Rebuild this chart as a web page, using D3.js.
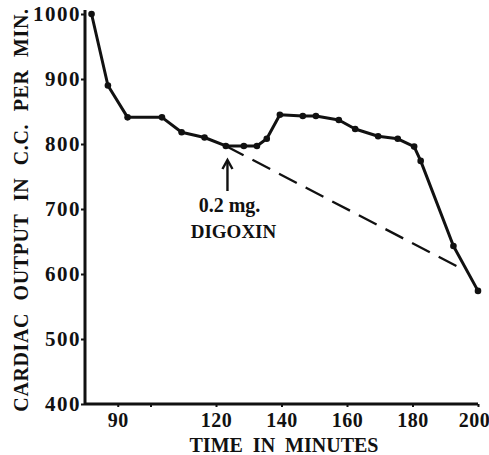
<!DOCTYPE html>
<html>
<head>
<meta charset="utf-8">
<script src="https://cdn.jsdelivr.net/npm/d3@7"></script>
<style>
  body { margin: 0; background: #fff; }
  text { font-family: "Liberation Serif", "DejaVu Serif", serif; font-weight: bold; fill: #111; }
</style>
</head>
<body>
<svg id="chart" width="489" height="455"></svg>
<script>
  // readings
  var times = [82, 87, 93, 103.5, 109.5, 116.5, 123, 128.5, 132.5, 135.5, 139.5, 146.5, 150.5, 157.5, 162.5, 169.5, 175.5, 180.5, 182.5, 192.5, 200];
  var output = [1000, 890, 841, 841, 818, 810, 797, 797, 797, 808, 845, 843, 843, 837, 823, 812, 808, 796, 774, 643, 574];
  var trendTimes = [123, 195];
  var trendOutput = [797, 608];
  var xTicks = [90, 100, 120, 140, 160, 180, 200];
  var xTickLabels = [90, 120, 140, 160, 180, 200];
  var yTicks = [400, 500, 600, 700, 800, 900, 1000];

  var X0 = 85, X1 = 478, Y0 = 404, Y1 = 14;

  var svg = d3.select("#chart");
  var x = d3.scaleLinear().domain([80, 200]).range([X0, X1]);
  var y = d3.scaleLinear().domain([400, 1000]).range([Y0, Y1]);

  // axes
  var xAxis = svg.append("g").attr("transform", "translate(0," + Y0 + ")")
    .call(d3.axisBottom(x).tickValues(xTicks).tickSize(3).tickSizeOuter(0)
      .tickFormat(function (d) { return xTickLabels.indexOf(d) >= 0 ? String(d) : ""; }));
  var yAxis = svg.append("g").attr("transform", "translate(" + X0 + ",0)")
    .call(d3.axisLeft(y).tickValues(yTicks).tickSize(4).tickSizeOuter(0).tickFormat(d3.format("d")));

  [xAxis, yAxis].forEach(function (ax) {
    ax.select(".domain").attr("stroke", "#111").attr("stroke-width", 3);
    ax.selectAll(".tick line").attr("stroke", "#111").attr("stroke-width", 2);
    ax.selectAll(".tick text").style("font-family", "Liberation Serif").style("font-weight", "bold")
      .attr("fill", "#111");
  });
  xAxis.selectAll(".tick text").attr("y", 4).attr("dy", "0.95em").style("font-size", "20px").style("letter-spacing", "0.5px");
  xAxis.selectAll(".tick text").filter(function (d) { return d === 200; }).attr("dx", -4);
  yAxis.selectAll(".tick text").attr("x", -4).style("font-size", "21px").style("letter-spacing", "1.5px");
  // extend y axis a bit above 1000
  yAxis.select(".domain").attr("d", "M0," + Y0 + "V" + (Y1 - 4));
  xAxis.select(".domain").attr("d", "M" + X0 + ",0H" + X1);

  // axis titles
  svg.append("text")
    .attr("transform", "translate(28," + 210 + ") rotate(-90)")
    .attr("text-anchor", "middle")
    .style("font-size", "20px")
    .style("word-spacing", "7px")
    .style("letter-spacing", "0.6px")
    .text("CARDIAC OUTPUT IN C.C. PER MIN.");
  svg.append("text")
    .attr("x", 284).attr("y", 452)
    .attr("text-anchor", "middle")
    .style("font-size", "20px")
    .style("word-spacing", "5px")
    .text("TIME IN MINUTES");

  // projected trend
  svg.append("path")
    .datum(d3.zip(trendTimes, trendOutput))
    .attr("fill", "none").attr("stroke", "#111").attr("stroke-width", 2.3)
    .attr("stroke-dasharray", "20,10")
    .attr("d", d3.line().x(function (d) { return x(d[0]); }).y(function (d) { return y(d[1]); }));

  // measured curve
  var pts = d3.zip(times, output);
  svg.append("path")
    .datum(pts)
    .attr("fill", "none").attr("stroke", "#111").attr("stroke-width", 3)
    .attr("stroke-linejoin", "round")
    .attr("d", d3.line().x(function (d) { return x(d[0]); }).y(function (d) { return y(d[1]); }));
  svg.selectAll("circle.pt").data(pts).enter().append("circle")
    .attr("class", "pt")
    .attr("cx", function (d) { return x(d[0]); })
    .attr("cy", function (d) { return y(d[1]); })
    .attr("r", 3.3).attr("fill", "#111");

  // digoxin arrow
  var ax0 = x(123.5);
  svg.append("line")
    .attr("x1", ax0).attr("x2", ax0).attr("y1", 162).attr("y2", 191)
    .attr("stroke", "#111").attr("stroke-width", 2.4);
  svg.append("path")
    .attr("d", "M" + (ax0 - 5) + ",169 L" + ax0 + ",160 L" + (ax0 + 5) + ",169")
    .attr("fill", "none").attr("stroke", "#111").attr("stroke-width", 2.4);
  svg.append("text").attr("x", ax0 + 2).attr("y", 212).attr("text-anchor", "middle")
    .style("font-size", "20px").text("0.2 mg.");
  svg.append("text").attr("x", ax0 + 6).attr("y", 238).attr("text-anchor", "middle")
    .style("font-size", "19px").text("DIGOXIN");
</script>
</body>
</html>
